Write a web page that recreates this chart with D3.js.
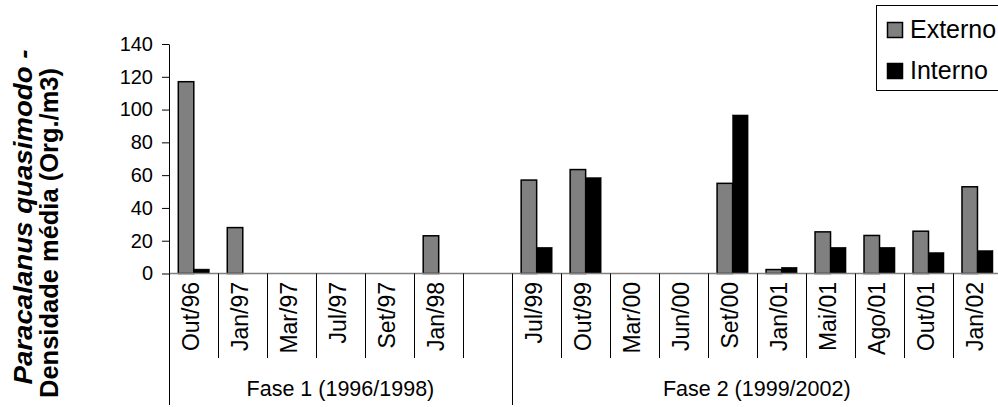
<!DOCTYPE html>
<html>
<head>
<meta charset="utf-8">
<script src="https://cdn.jsdelivr.net/npm/d3@7"></script>
<style>
  html, body { margin: 0; padding: 0; background: #fff; }
  svg { display: block; }
  text { font-family: Arial, "Liberation Sans", sans-serif; fill: #000; }
</style>
</head>
<body>
<svg id="chart" width="998" height="407"></svg>
<script>
// ---- data ----
const phase1 = ["Out/96", "Jan/97", "Mar/97", "Jul/97", "Set/97", "Jan/98", ""];
const phase2 = ["Jul/99", "Out/99", "Mar/00", "Jun/00", "Set/00", "Jan/01", "Mai/01", "Ago/01", "Out/01", "Jan/02"];
const phaseLabels = ["Fase 1 (1996/1998)", "Fase 2 (1999/2002)"];
const categories = phase1.concat(phase2);
const externo = [117, 28, 0, 0, 0, 23, 0, 57, 63.4, 0, 0, 55, 2.4, 25.4, 23.2, 25.8, 52.9];
const interno = [2.7, 0, 0, 0, 0, 0, 0, 16, 58.5, 0, 0, 96.7, 3.8, 16, 16, 12.8, 14];
const seriesNames = ["Externo", "Interno"];
const yTicks = [0, 20, 40, 60, 80, 100, 120, 140];
const titleLine1 = "Paracalanus quasimodo -";
const titleLine2 = "Densidade média (Org./m3)";

// ---- layout ----
const svg = d3.select("#chart");
const left = 169, bandW = 48.98;
const right = left + categories.length * bandW;
const y0 = 273.5, yTop = 44;
const colors = { Externo: "#808080", Interno: "#000000" };

const x = d3.scaleBand().domain(d3.range(categories.length)).range([left, right]).padding(0);
const x1 = d3.scaleBand().domain(seriesNames).range([9.3, 40.3]).padding(0);
const y = d3.scaleLinear().domain([0, 140]).range([y0, yTop]);

// bars
const data = categories.map((c, i) => ({ i, c, Externo: externo[i], Interno: interno[i] }));
const g = svg.append("g");
data.forEach(d => {
  seriesNames.forEach(s => {
    if (d[s] > 0) {
      g.append("rect")
        .attr("x", x(d.i) + x1(s))
        .attr("y", y(d[s]))
        .attr("width", x1.bandwidth())
        .attr("height", y0 - y(d[s]))
        .attr("fill", colors[s])
        .attr("stroke", "#000")
        .attr("stroke-width", s === "Externo" ? 1.5 : 0.5);
    }
  });
});

// x axis line (gray)
svg.append("line").attr("x1", left).attr("x2", right + 10).attr("y1", y0).attr("y2", y0)
  .attr("stroke", "#808080").attr("stroke-width", 1.5);

// y axis
const yAxis = d3.axisLeft(y).tickValues(yTicks).tickSize(7).tickPadding(9).tickSizeOuter(0);
const ya = svg.append("g").attr("transform", `translate(${left},0)`).call(yAxis);
ya.select(".domain").attr("stroke", "#000").attr("stroke-width", 1);
ya.selectAll(".tick line").attr("stroke", "#000");
ya.selectAll(".tick text").style("font-size", "20px").attr("fill", "#000")
  .style("font-family", 'Arial, "Liberation Sans", sans-serif');

// left axis continuation down to bottom
svg.append("line").attr("x1", left + 0.5).attr("x2", left + 0.5).attr("y1", y0).attr("y2", 405)
  .attr("stroke", "#000").attr("stroke-width", 1);

// category separators
const boundary = phase1.length;
d3.range(1, categories.length).forEach(i => {
  const xx = Math.round(x(i)) + 0.5;
  svg.append("line").attr("x1", xx).attr("x2", xx).attr("y1", y0)
    .attr("y2", i === boundary ? 405 : 358)
    .attr("stroke", "#000").attr("stroke-width", 1);
});

// category labels (rotated)
categories.forEach((c, i) => {
  if (!c) return;
  const cx = x(i) + x.bandwidth() / 2 - 2;
  svg.append("text")
    .attr("transform", `translate(${cx},282) rotate(-90)`)
    .attr("text-anchor", "end")
    .attr("dominant-baseline", "central")
    .style("font-size", "23px")
    .text(c);
});

// phase labels
const phaseRanges = [[0, phase1.length], [phase1.length, categories.length]];
phaseRanges.forEach((r, k) => {
  const cx = (x(r[0]) + (r[1] < categories.length ? x(r[1]) : right)) / 2;
  svg.append("text").attr("x", cx).attr("y", 396).attr("text-anchor", "middle")
    .style("font-size", "21.5px").text(phaseLabels[k]);
});

// y title
svg.append("text").attr("transform", "translate(32,217) rotate(-90)")
  .attr("text-anchor", "middle").style("font-size", "26px")
  .attr("textLength", 335).attr("lengthAdjust", "spacingAndGlyphs")
  .style("font-weight", "bold").style("font-style", "italic").text(titleLine1);
svg.append("text").attr("transform", "translate(58,233) rotate(-90)")
  .attr("text-anchor", "middle").style("font-size", "26px")
  .attr("textLength", 330).attr("lengthAdjust", "spacingAndGlyphs")
  .style("font-weight", "bold").text(titleLine2);

// legend
const lg = svg.append("g");
lg.append("rect").attr("x", 876.5).attr("y", 5.5).attr("width", 140).attr("height", 85)
  .attr("fill", "#fff").attr("stroke", "#000").attr("stroke-width", 1);
seriesNames.forEach((s, k) => {
  const cy = [30, 71][k];
  lg.append("rect").attr("x", 887.5).attr("y", cy - 7.5).attr("width", 15).attr("height", 15)
    .attr("fill", colors[s]).attr("stroke", "#000").attr("stroke-width", 1.5);
  lg.append("text").attr("x", 910).attr("y", cy + 8).style("font-size", "25px").text(s);
});
</script>
</body>
</html>
